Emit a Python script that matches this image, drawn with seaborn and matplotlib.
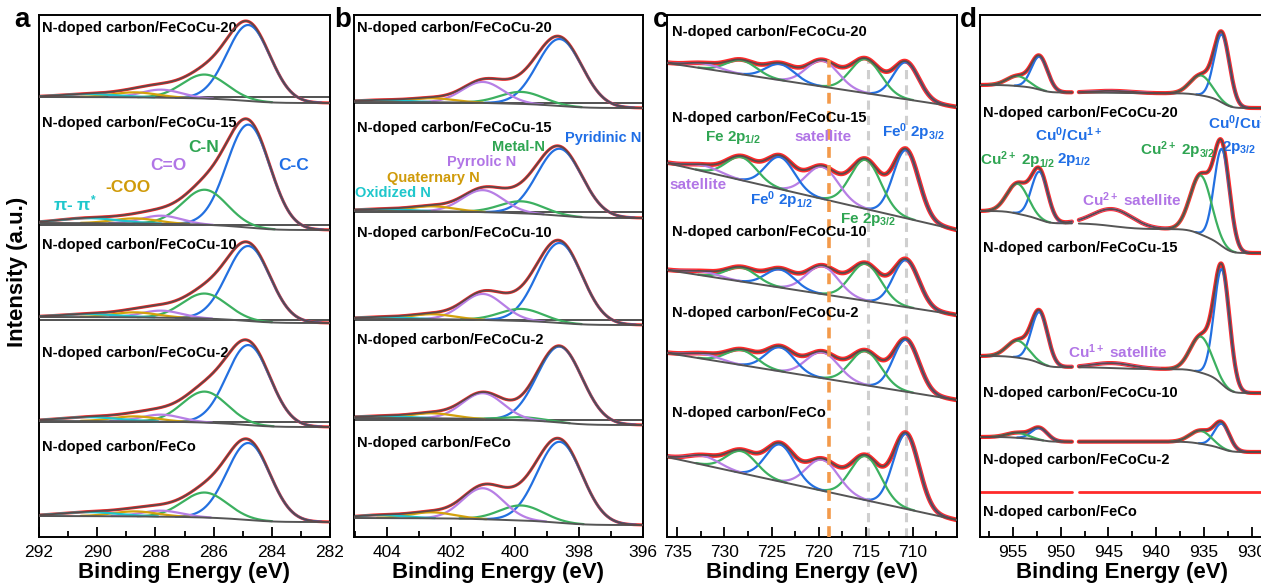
import numpy as np
import matplotlib
matplotlib.use("Agg")
import matplotlib.pyplot as plt
from matplotlib.ticker import MultipleLocator
import seaborn as sns

# =============================================================================
# data (peak parameters)
# =============================================================================
samples = ["N-doped carbon/FeCoCu-20", "N-doped carbon/FeCoCu-15",
           "N-doped carbon/FeCoCu-10", "N-doped carbon/FeCoCu-2",
           "N-doped carbon/FeCo"]

# C 1s
c_range = (292.0, 282.0)
c_names = ["C-C", "C-N", "C=O", "-COO", "π- π$^{*}$"]
c_center = [284.8, 286.3, 287.8, 288.7, 290.3]
c_fwhm = [1.75, 1.8, 1.6, 1.8, 2.4]
c_height = [[76, 24, 8, 5, 3],
            [103, 35, 8, 5, 5],
            [75, 25, 7, 5, 3],
            [80, 31, 7, 5, 4],
            [77, 25, 6, 5, 4]]
c_step = [6, 7, 6, 6, 6]

# N 1s
n_range = (405.03, 396.0)
n_names = ["Pyridinic N", "Metal-N", "Pyrrolic N", "Quaternary N", "Oxidized N"]
n_center = [398.6, 399.8, 401.0, 402.6, 404.2]
n_fwhm = [1.65, 1.6, 1.5, 1.6, 1.8]
n_height = [[67, 12, 21, 4, 2],
            [67, 12, 22, 5, 2],
            [80, 12, 26, 5, 2],
            [76, 3, 26, 5, 2],
            [81, 15, 31, 6, 3]]
n_step = [6, 7, 6, 7, 7]

# Fe 2p
fe_range = (736.1, 705.3)
fe_center = [710.7, 715.0, 719.6, 724.1, 728.2, 732.2]
fe_fwhm = [3.2, 3.8, 4.0, 3.6, 3.8, 4.0]
fe_height = [[37, 34, 26, 16, 14, 5],
             [68, 49, 32, 32, 23, 6],
             [47, 37, 28, 18, 14, 4],
             [52, 34, 26, 24, 15, 5],
             [75, 44, 31, 37, 22, 9]]
fe_rise = [44, 67, 45, 47, 63]
fe_marks = [718.9, 714.8, 710.7]

# Cu 2p (measured in two windows)
cu_range = (958.45, 928.8)
cu_windows = [(958.45, 948.8), (948.1, 928.8)]
cu_center = [933.1, 935.3, 944.5, 952.2, 954.5]
cu_fwhm = [1.9, 2.6, 4.8, 2.0, 2.6]
cu_height = [[68, 20, 2, 33, 10],
             [97, 59, 17, 48, 30],
             [115, 36, 5, 51, 17],
             [25, 13, 0, 12, 5],
             [0, 0, 0, 0, 0]]
cu_step = [23, 42, 37, 15, 0]

# =============================================================================
# style
# =============================================================================
red = "#ff2a2a"
env_col = "#5e4848"
bg_col = "#555555"
blue = "#2370e0"
green = "#3cb060"
purple = "#b77fe5"
gold = "#d4a20c"
cyan = "#20c4cc"

sns.set_theme(style="ticks")
plt.rcParams["font.family"] = ["Liberation Sans", "DejaVu Sans"]
plt.rcParams["text.color"] = "black"
plt.rcParams["axes.labelcolor"] = "black"
plt.rcParams["xtick.color"] = "black"
plt.rcParams["mathtext.fontset"] = "custom"
plt.rcParams["mathtext.rm"] = "Liberation Sans:bold"
plt.rcParams["mathtext.it"] = "Liberation Sans:bold"
plt.rcParams["mathtext.bf"] = "Liberation Sans:bold"


def gauss(x, c, h, w):
    return h * np.exp(-4 * np.log(2) * (x - c) ** 2 / w ** 2)


def shirley(x, total, step):
    order = np.argsort(x)
    cum = np.cumsum(total[order])
    frac = np.zeros_like(x)
    if cum[-1] > 0:
        frac[order] = cum / cum[-1]
    return step * frac


def line(ax, x, y, color, lw, z):
    ok = ~np.isnan(y)
    if ok.sum() < 2:
        return
    sns.lineplot(x=x[ok], y=y[ok], ax=ax, color=color, linewidth=lw,
                 estimator=None, sort=False, legend=False, zorder=z)


def draw(ax, xr, centers, fwhms, heights, colors, offsets, bgk, bgv,
         windows=None, red_lw=2.2):
    x = np.linspace(xr[0], xr[1], 900)
    if windows is None:
        windows = [xr]
    for i, hs in enumerate(heights):
        peaks = [gauss(x, c, h, w) for c, h, w in zip(centers, hs, fwhms)]
        total = np.sum(peaks, axis=0)
        if bgk == "shirley":
            bg = shirley(x, total, bgv[i])
        else:
            bg = bgv[i] * (x - x.min()) / (x.max() - x.min())
        base = offsets[i] + bg
        for lo_hi in windows:
            m = (x <= lo_hi[0]) & (x >= lo_hi[1])
            xs = x[m]
            if total.max() == 0:
                line(ax, xs, (base + total)[m], red, 2.0, 1)
                continue
            line(ax, xs, (base + total)[m], red, red_lw, 1)
            for p, col in zip(peaks, colors):
                if p.max() == 0:
                    continue
                yy = np.where(p > 0.25, base + p, np.nan)[m]
                line(ax, xs, yy, col, 1.6, 2)
            line(ax, xs, base[m], bg_col, 1.4, 3)
            line(ax, xs, (base + total)[m], env_col, 1.3, 4)


def style(ax, xr, major, minor):
    ax.set_xlim(xr)
    ax.set_ylim(0, 522)
    ax.set_yticks([])
    ax.xaxis.set_major_locator(MultipleLocator(major))
    ax.xaxis.set_minor_locator(MultipleLocator(minor))
    ax.tick_params(axis="x", which="major", direction="in", length=7, width=1.3,
                   labelsize=12.5, pad=6, top=False)
    ax.tick_params(axis="x", which="minor", direction="in", length=4, width=1.3, top=False)
    for s in ax.spines.values():
        s.set_visible(True)
        s.set_linewidth(1.4)
        s.set_color("black")
    ax.set_xlabel("Binding Energy (eV)", fontsize=16, fontweight="bold", labelpad=1)
    ax.set_ylabel("")


W, H = 1261, 587
fig = plt.figure(figsize=(W / 100, H / 100), dpi=100)


def box(left, right):
    return fig.add_axes([left / W, 1 - 537 / H, (right - left) / W, 522 / H])


ax_a = box(39, 330)
ax_b = box(354, 643)
ax_c = box(667, 957)
ax_d = box(980, 1263)

# layout: vertical position of each spectrum (bottom of its background, right side)
off_a = [434, 307, 214, 110, 15]
div_a = [440, 312, 217, 115]
off_b = [429, 319, 212, 112, 12]
div_b = [434, 325, 217, 117]
off_c = [430, 307, 222, 137, 17]
off_d = [429, 284, 144, 85, 45]

# ---------------- a: C 1s
draw(ax_a, c_range, c_center, c_fwhm, c_height, [blue, green, purple, gold, cyan],
     off_a, "shirley", c_step)
for y in div_a:
    ax_a.axhline(y, color="#333333", lw=1.2, zorder=0)
style(ax_a, c_range, 2, 1)
for lab, y in zip(samples, [509, 414, 292, 184, 90]):
    ax_a.text(291.9, y, lab, fontsize=10.5, fontweight="bold", va="center", ha="left")
for lab, col, x, y in zip(c_names, ["#1f6ee6", "#2fa552", "#b175e6", "#d09b0a", "#1fc7cc"],
                          [283.25, 286.35, 287.55, 288.95, 290.75], [372, 390, 372, 349, 334]):
    ax_a.text(x, y, lab, color=col, fontsize=12.5, fontweight="bold", ha="center", va="center")

# ---------------- b: N 1s
draw(ax_b, n_range, n_center, n_fwhm, n_height, [blue, green, purple, gold, cyan],
     off_b, "shirley", n_step)
for y in div_b:
    ax_b.axhline(y, color="#333333", lw=1.2, zorder=0)
style(ax_b, n_range, 2, 1)
for lab, y in zip(samples, [509, 409, 304, 197, 94]):
    ax_b.text(404.95, y, lab, fontsize=10.5, fontweight="bold", va="center", ha="left")
for lab, col, x, y in zip(n_names, ["#1f6ee6", "#2fa552", "#b175e6", "#d09b0a", "#1fc7cc"],
                          [397.25, 399.9, 401.03, 402.56, 403.81], [399, 390, 375, 359, 344]):
    ax_b.text(x, y, lab, color=col, fontsize=10.5, fontweight="bold", ha="center", va="center")

# ---------------- c: Fe 2p
draw(ax_c, fe_range, fe_center, fe_fwhm, fe_height,
     [blue, green, purple, blue, green, purple], off_c, "linear", fe_rise, red_lw=3.4)
ax_c.plot([fe_marks[0]] * 2, [0, 477], color="#f39a4a", lw=2.6, ls=(0, (3, 2)), zorder=5)
for xm in fe_marks[1:]:
    ax_c.plot([xm] * 2, [0, 477], color="#cfcfcf", lw=2.2, ls=(0, (3, 2)), zorder=0.5)
style(ax_c, fe_range, 5, 2.5)
for lab, y in zip(samples, [505, 419, 305, 224, 124]):
    ax_c.text(735.6, y, lab, fontsize=10.5, fontweight="bold", va="center", ha="left", zorder=6)
fe_labels = [("Fe 2p$_{1/2}$", "#2fa552", 729.1, 399),
             ("satellite", "#b175e6", 719.5, 400),
             ("Fe$^{0}$ 2p$_{3/2}$", "#1f6ee6", 709.9, 405),
             ("satellite", "#b175e6", 732.8, 352),
             ("Fe$^{0}$ 2p$_{1/2}$", "#1f6ee6", 723.9, 337),
             ("Fe 2p$_{3/2}$", "#2fa552", 714.7, 317)]
for lab, col, x, y in fe_labels:
    ax_c.text(x, y, lab, color=col, fontsize=11, fontweight="bold", ha="center", va="center", zorder=6)

# ---------------- d: Cu 2p
draw(ax_d, cu_range, cu_center, cu_fwhm, cu_height, [blue, green, purple, blue, green],
     off_d, "shirley", cu_step, windows=cu_windows, red_lw=3.0)
style(ax_d, cu_range, 5, 2.5)
for lab, y in zip(samples, [424, 289, 144, 77, 25]):
    ax_d.text(958.1, y, lab, fontsize=10.5, fontweight="bold", va="center", ha="left")
cu_labels = [("Cu$^{0}$/Cu$^{1+}$", "#1f6ee6", 931.0, 414),
             ("2p$_{3/2}$", "#1f6ee6", 931.3, 390),
             ("Cu$^{0}$/Cu$^{1+}$", "#1f6ee6", 949.2, 402),
             ("Cu$^{2+}$ 2p$_{1/2}$", "#2fa552", 954.5, 377),
             ("2p$_{1/2}$", "#1f6ee6", 948.6, 377),
             ("Cu$^{2+}$ 2p$_{3/2}$", "#2fa552", 937.7, 387),
             ("Cu$^{2+}$ satellite", "#b175e6", 942.6, 337),
             ("Cu$^{1+}$ satellite", "#b175e6", 944.0, 185)]
for lab, col, x, y in cu_labels:
    ax_d.text(x, y, lab, color=col, fontsize=11, fontweight="bold", ha="center", va="center")

# figure-level text
fig.text(18 / W, 1 - 272 / H, "Intensity (a.u.)", rotation=90, fontsize=16,
         fontweight="bold", ha="center", va="center")
for letter, px, py in [("a", 22, 20), ("b", 343, 20), ("c", 661, 20), ("d", 968, 20)]:
    fig.text(px / W, 1 - py / H, letter, fontsize=20, fontweight="bold", ha="center", va="center")

fig.savefig("out.png", dpi=100)
